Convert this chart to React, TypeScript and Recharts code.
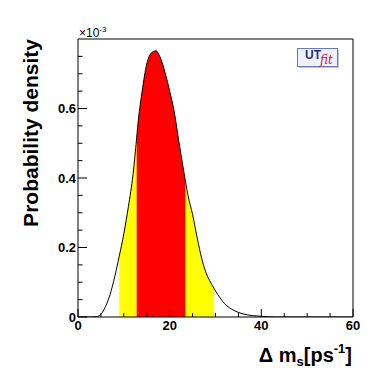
import React from 'react';
import { ComposedChart, Area, Line, XAxis, YAxis, ReferenceArea } from 'recharts';

// Δms posterior (x in ps^-1, density in units of 1e-3)
const dms = [0, 2, 3, 4, 5, 6, 7, 8, 9, 10, 11, 12, 12.8, 13, 14, 15, 16, 17, 18, 19, 20, 21, 22, 23, 23.4, 24, 25, 26, 27, 28, 29, 29.7, 30, 31, 32, 33, 34, 35, 36, 37, 38, 39, 40, 41, 42, 43, 45, 50, 55, 60];
const density = [0, 0, 0, 0.001, 0.008, 0.03, 0.065, 0.115, 0.175, 0.24, 0.318, 0.41, 0.516, 0.545, 0.65, 0.728, 0.76, 0.766, 0.745, 0.703, 0.65, 0.59, 0.505, 0.425, 0.393, 0.35, 0.295, 0.228, 0.168, 0.125, 0.098, 0.082, 0.075, 0.055, 0.038, 0.027, 0.019, 0.013, 0.009, 0.006, 0.004, 0.003, 0.002, 0.001, 0.0005, 0, 0, 0, 0, 0];

const band95 = [9, 29.7];
const band68 = [12.8, 23.4];

const xTicks = [0, 5, 10, 15, 20, 25, 30, 35, 40, 45, 50, 55, 60];
const xLabels = [0, 20, 40, 60];
const yTicks = [0, 0.05, 0.1, 0.15, 0.2, 0.25, 0.3, 0.35, 0.4, 0.45, 0.5, 0.55, 0.6, 0.65, 0.7, 0.75];
const yLabels = [0, 0.2, 0.4, 0.6];

const FONT = '"Liberation Sans", Arial, Helvetica, sans-serif';

const data = dms.map((x, i) => ({
  x,
  p: density[i],
  y95: x >= band95[0] && x <= band95[1] ? density[i] : null,
  y68: x >= band68[0] && x <= band68[1] ? density[i] : null,
}));

function XTick(props: any) {
  const { x, y, payload } = props;
  const v = payload.value;
  const major = xLabels.includes(v);
  return (
    <g>
      <line x1={x} x2={x} y1={y} y2={y - (major ? 8 : 4)} stroke="#000" strokeWidth={1} />
      {major && (
        <text x={x} y={y + 13} textAnchor="middle" fontFamily={FONT} fontWeight="bold" fontSize={13} fill="#000">
          {v}
        </text>
      )}
    </g>
  );
}

function YTick(props: any) {
  const { x, y, payload } = props;
  const v = payload.value;
  const major = yLabels.includes(v);
  return (
    <g>
      <line x1={x} x2={x + (major ? 9 : 4.5)} y1={y} y2={y} stroke="#000" strokeWidth={1} />
      {major && (
        <text x={x - 2} y={y} dy="0.36em" textAnchor="end" fontFamily={FONT} fontWeight="bold" fontSize={13} fill="#000">
          {v === 0 ? '0' : String(v)}
        </text>
      )}
    </g>
  );
}

export default function App() {
  return (
    <div style={{ position: 'absolute', left: 0, top: 0, width: 392, height: 374, background: '#fff' }}>
      <ComposedChart width={392} height={374} data={data} margin={{ top: 39, right: 39, left: 18, bottom: 27 }}>
        <XAxis
          dataKey="x"
          type="number"
          domain={[0, 60]}
          ticks={xTicks}
          interval={0}
          tick={<XTick />}
          tickSize={0}
          tickMargin={0}
          tickLine={false}
          axisLine={false}
          height={30}
          allowDataOverflow
        />
        <YAxis
          type="number"
          domain={[0, 0.8]}
          ticks={yTicks}
          interval={0}
          tick={<YTick />}
          tickSize={0}
          tickMargin={0}
          tickLine={false}
          axisLine={false}
          width={60}
          allowDataOverflow
        />
        <Area type="monotone" dataKey="y95" stroke="none" fill="#ffff00" fillOpacity={1} isAnimationActive={false} />
        <Area type="monotone" dataKey="y68" stroke="none" fill="#ff0000" fillOpacity={1} isAnimationActive={false} />
        <Line type="monotone" dataKey="p" stroke="#000" strokeWidth={1} dot={false} activeDot={false} isAnimationActive={false} />
        <ReferenceArea x1={0} x2={60} y1={0} y2={0.8} fill="none" fillOpacity={0} stroke="#000" strokeWidth={1} />
      </ComposedChart>
      <svg width={392} height={374} style={{ position: 'absolute', left: 0, top: 0, pointerEvents: 'none' }}>
        <text x={79} y={37} fontFamily={FONT} fontSize={12} fill="#000">
          ×10<tspan fontSize={8} dy={-5}>-3</tspan>
        </text>
        <text transform="translate(38,39) rotate(-90)" textAnchor="end" fontFamily={FONT} fontWeight="bold" fontSize={21} fill="#000">
          Probability density
        </text>
        <text x={352} y={362} textAnchor="end" fontFamily={FONT} fontWeight="bold" fontSize={20} fill="#000">
          Δ m<tspan fontSize={13} dy={4}>s</tspan>
          <tspan dy={-4}>[ps</tspan>
          <tspan fontSize={13} dy={-9}>-1</tspan>
          <tspan dy={9}>]</tspan>
        </text>
        <g>
          <rect x={299} y={50} width={40} height={18} fill="#8a8a9a" opacity={0.5} />
          <rect x={297.5} y={48.5} width={40} height={18} fill="#eef0fb" stroke="#6a78b8" strokeWidth={1} />
          <text x={305} y={59} fontFamily={FONT} fontWeight="bold" fontSize={12} fill="#1f2f80">UT</text>
          <text x={320} y={64} fontFamily='"DejaVu Serif", "Liberation Serif", serif' fontStyle="italic" fontSize={12} fill="#d0202a">fit</text>
        </g>
      </svg>
    </div>
  );
}
